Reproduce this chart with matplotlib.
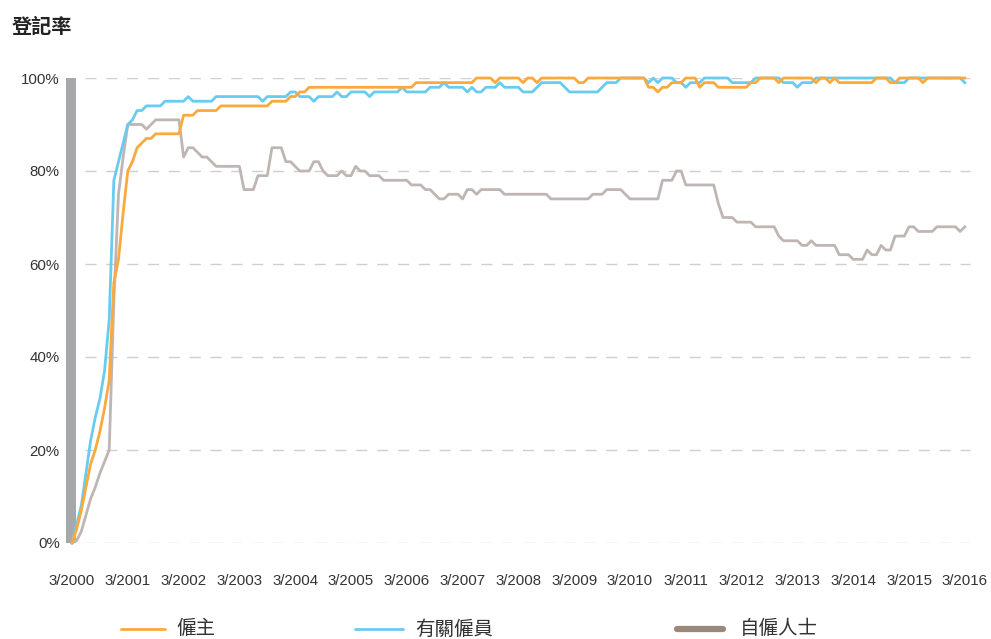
import matplotlib
matplotlib.use("Agg")
import matplotlib.pyplot as plt
from matplotlib.lines import Line2D
import numpy as np

plt.rcParams['font.family'] = ['Liberation Sans', 'Noto Sans CJK TC', 'DejaVu Sans']

title = "登記率"
series_names = ["僱主", "有關僱員", "自僱人士"]
tick_labels = ["3/%d" % y for y in range(2000, 2017)]
y_ticks = [0, 20, 40, 60, 80, 100]

# monthly registration rates (%), 3/2000 .. 3/2016
employer = [
    0, 3, 7, 12, 17, 20, 24, 29, 35, 56, 61, 71,
    80, 82, 85, 86, 87, 87, 88, 88, 88, 88, 88, 88,
    92, 92, 92, 93, 93, 93, 93, 93, 94, 94, 94, 94,
    94, 94, 94, 94, 94, 94, 94, 95, 95, 95, 95, 96,
    96, 97, 97, 98, 98, 98, 98, 98, 98, 98, 98, 98,
    98, 98, 98, 98, 98, 98, 98, 98, 98, 98, 98, 98,
    98, 98, 99, 99, 99, 99, 99, 99, 99, 99, 99, 99,
    99, 99, 99, 100, 100, 100, 100, 99, 100, 100, 100, 100,
    100, 99, 100, 100, 99, 100, 100, 100, 100, 100, 100, 100,
    100, 99, 99, 100, 100, 100, 100, 100, 100, 100, 100, 100,
    100, 100, 100, 100, 98, 98, 97, 98, 98, 99, 99, 99,
    100, 100, 100, 98, 99, 99, 99, 98, 98, 98, 98, 98,
    98, 98, 99, 99, 100, 100, 100, 100, 99, 100, 100, 100,
    100, 100, 100, 100, 99, 100, 100, 99, 100, 99, 99, 99,
    99, 99, 99, 99, 99, 100, 100, 100, 99, 99, 100, 100,
    100, 100, 100, 99, 100, 100, 100, 100, 100, 100, 100, 100,
    100,
]

employee = [
    0, 4, 8, 15, 22, 27, 31, 37, 48, 78, 82, 86,
    90, 91, 93, 93, 94, 94, 94, 94, 95, 95, 95, 95,
    95, 96, 95, 95, 95, 95, 95, 96, 96, 96, 96, 96,
    96, 96, 96, 96, 96, 95, 96, 96, 96, 96, 96, 97,
    97, 96, 96, 96, 95, 96, 96, 96, 96, 97, 96, 96,
    97, 97, 97, 97, 96, 97, 97, 97, 97, 97, 97, 98,
    97, 97, 97, 97, 97, 98, 98, 98, 99, 98, 98, 98,
    98, 97, 98, 97, 97, 98, 98, 98, 99, 98, 98, 98,
    98, 97, 97, 97, 98, 99, 99, 99, 99, 99, 98, 97,
    97, 97, 97, 97, 97, 97, 98, 99, 99, 99, 100, 100,
    100, 100, 100, 100, 99, 100, 99, 100, 100, 100, 99, 99,
    98, 99, 99, 99, 100, 100, 100, 100, 100, 100, 99, 99,
    99, 99, 99, 100, 100, 100, 100, 100, 100, 99, 99, 99,
    98, 99, 99, 99, 100, 100, 100, 100, 100, 100, 100, 100,
    100, 100, 100, 100, 100, 100, 100, 100, 100, 99, 99, 99,
    100, 100, 100, 100, 100, 100, 100, 100, 100, 100, 100, 100,
    99,
]

self_employed = [
    0, 0.5, 2.5, 6, 9.5, 12, 15, 17.5, 20, 52, 75, 83,
    90, 90, 90, 90, 89, 90, 91, 91, 91, 91, 91, 91,
    83, 85, 85, 84, 83, 83, 82, 81, 81, 81, 81, 81,
    81, 76, 76, 76, 79, 79, 79, 85, 85, 85, 82, 82,
    81, 80, 80, 80, 82, 82, 80, 79, 79, 79, 80, 79,
    79, 81, 80, 80, 79, 79, 79, 78, 78, 78, 78, 78,
    78, 77, 77, 77, 76, 76, 75, 74, 74, 75, 75, 75,
    74, 76, 76, 75, 76, 76, 76, 76, 76, 75, 75, 75,
    75, 75, 75, 75, 75, 75, 75, 74, 74, 74, 74, 74,
    74, 74, 74, 74, 75, 75, 75, 76, 76, 76, 76, 75,
    74, 74, 74, 74, 74, 74, 74, 78, 78, 78, 80, 80,
    77, 77, 77, 77, 77, 77, 77, 73, 70, 70, 70, 69,
    69, 69, 69, 68, 68, 68, 68, 68, 66, 65, 65, 65,
    65, 64, 64, 65, 64, 64, 64, 64, 64, 62, 62, 62,
    61, 61, 61, 63, 62, 62, 64, 63, 63, 66, 66, 66,
    68, 68, 67, 67, 67, 67, 68, 68, 68, 68, 68, 67,
    68,
]

colors = ["#FAAA3C", "#6ACBF1", "#BFB6B3"]
legend_colors = ["#FAAA3C", "#6ACBF1", "#9C877B"]
bar_color = "#A7A8AB"
grid_color = "#CFCFCF"
text_color = "#333333"

W, H = 991, 639
fig = plt.figure(figsize=(W / 100, H / 100), dpi=100)

# pixel geometry
x0_px, px_per_month = 72.0, 4.65
ax_left_px, ax_right_px = 66.0, 972.0
ax_top_px, ax_bot_px = 78.0, 543.0

ax = fig.add_axes([ax_left_px / W, (H - ax_bot_px) / H,
                   (ax_right_px - ax_left_px) / W, (ax_bot_px - ax_top_px) / H])
ax.set_xlim((ax_left_px - x0_px) / px_per_month, (ax_right_px - x0_px) / px_per_month)
ax.set_ylim(0, 100)

months = np.arange(len(employer))

# thick grey bar at the left (axis band)
bx0 = (66.0 - x0_px) / px_per_month
bx1 = (76.0 - x0_px) / px_per_month
ax.fill_betweenx([0, 100], bx0, bx1, color=bar_color, lw=0, zorder=1)

# gridlines
gx0 = (85.0 - x0_px) / px_per_month
gx1 = (970.0 - x0_px) / px_per_month
for yv in y_ticks:
    ax.plot([gx0, gx1], [yv, yv], color=grid_color, lw=1.0,
            dashes=(8, 7), zorder=0.5, solid_capstyle='butt')

for data, c, z in zip([self_employed, employee, employer], [colors[2], colors[1], colors[0]], [2, 3, 4]):
    ax.plot(months, data, color=c, lw=2.0, zorder=z, clip_on=False,
            solid_joinstyle='round')

for s in ax.spines.values():
    s.set_visible(False)

ax.set_yticks(y_ticks)
ax.set_yticklabels(["%d%%" % v for v in y_ticks])
ax.set_xticks(np.arange(0, len(employer), 12))
ax.set_xticklabels(tick_labels)
ax.tick_params(axis='both', length=0, colors=text_color, labelsize=10.8)
ax.tick_params(axis='y', pad=4.5)
ax.tick_params(axis='x', pad=22)

# title
fig.text(12 / W, 1 - 26 / H, title, fontsize=14.5, fontweight='bold',
         family=['Noto Sans CJK TC', 'DejaVu Sans'], color="#222222",
         ha='left', va='center')

# legend (manual)
leg_y = 1 - 629 / H
items = [(121, 165, 176, 2.0), (355, 403, 415, 2.0), (677, 723, 740, 4.5)]
for (lx0, lx1, tx, lw), name, c in zip(items, series_names, legend_colors):
    fig.add_artist(Line2D([lx0 / W, lx1 / W], [leg_y, leg_y], color=c, lw=lw,
                          solid_capstyle='round', transform=fig.transFigure))
    fig.text(tx / W, leg_y, name, fontsize=14, color=text_color,
             family=['Noto Sans CJK TC', 'DejaVu Sans'], ha='left', va='center')

fig.savefig("out.png", dpi=100)
